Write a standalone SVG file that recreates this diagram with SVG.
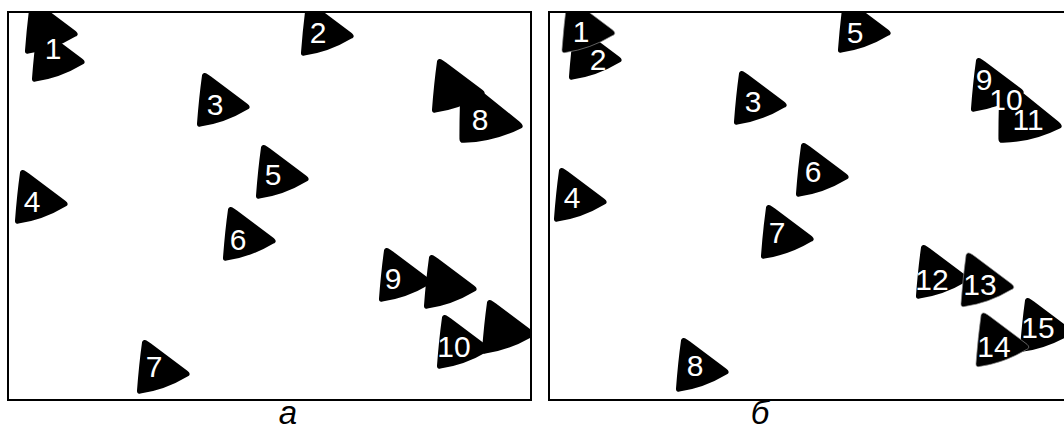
<svg xmlns="http://www.w3.org/2000/svg" xmlns:xlink="http://www.w3.org/1999/xlink" width="1064" height="432" viewBox="0 0 1064 432">
  <style>
    .frame { fill: none; stroke: #000; stroke-width: 2; }
    .blob { fill: #000; }
    .seam { fill: #000; stroke: #8a8a8a; stroke-width: 0.7; }
    .lbl { fill: #fff; font-family: "Liberation Sans", Arial, sans-serif; font-size: 30px; text-anchor: middle; }
    .cap { fill: #000; font-family: "Liberation Sans", Arial, sans-serif; font-size: 33px; font-style: italic; text-anchor: middle; }
  </style>
  <defs>
    <path id="tri" d="M2,0 C4,0.5 6,2 8,3.5 L44,30.5 C47.5,33 47.5,35.5 44.5,36.5 Q22,50 -2.5,53.5 C-5,54.2 -6.2,53 -6,50.5 Q-4,24 -1,2.5 C-0.6,0.5 0.5,-0.3 2,0 Z"/>
    <clipPath id="clipA"><rect x="9" y="13" width="521" height="386"/></clipPath>
    <clipPath id="clipB"><rect x="550" y="13" width="522" height="386"/></clipPath>
  </defs>
  <rect width="1064" height="432" fill="#fff"/>

  <!-- Panel a -->
  <g id="panel-a" clip-path="url(#clipA)">
    <g id="a-node-1">
      <use href="#tri" class="blob" transform="translate(31,0)"/>
      <use href="#tri" class="blob" transform="translate(38,28)"/>
      <text class="lbl" x="53" y="59">1</text>
    </g>
    <g id="a-node-2">
      <use href="#tri" class="blob" transform="translate(307,2)"/>
      <text class="lbl" x="318" y="43">2</text>
    </g>
    <g id="a-node-3">
      <use href="#tri" class="blob" transform="translate(203,73)"/>
      <text class="lbl" x="215" y="115">3</text>
    </g>
    <g id="a-node-4">
      <use href="#tri" class="blob" transform="translate(21,170)"/>
      <text class="lbl" x="32" y="212">4</text>
    </g>
    <g id="a-node-5">
      <use href="#tri" class="blob" transform="translate(262,145)"/>
      <text class="lbl" x="273" y="185">5</text>
    </g>
    <g id="a-node-6">
      <use href="#tri" class="blob" transform="translate(229,207)"/>
      <text class="lbl" x="238" y="250">6</text>
    </g>
    <g id="a-node-7">
      <use href="#tri" class="blob" transform="translate(143,340)"/>
      <text class="lbl" x="154" y="377">7</text>
    </g>
    <g id="a-node-8">
      <use href="#tri" class="blob" transform="translate(438,59)"/>
      <use href="#tri" class="blob" transform="matrix(1.231,0.14,0.0955,1.217,462,78)"/>
      <text class="lbl" x="480" y="130">8</text>
    </g>
    <g id="a-node-9">
      <use href="#tri" class="blob" transform="translate(385,248)"/>
      <use href="#tri" class="blob" transform="translate(430,255)"/>
      <text class="lbl" x="393" y="289">9</text>
    </g>
    <g id="a-node-10">
      <use href="#tri" class="blob" transform="translate(488,300)"/>
      <use href="#tri" class="blob" transform="translate(443,315)"/>
      <text class="lbl" x="454" y="357">10</text>
    </g>
  </g>

  <!-- Panel b -->
  <g id="panel-b" clip-path="url(#clipB)">
    <g id="b-node-1-2">
      <use href="#tri" class="blob" transform="translate(575,26)"/>
      <use href="#tri" class="seam" transform="translate(568,-1)"/>
      <text class="lbl" x="581" y="42">1</text>
      <text class="lbl" x="598" y="70">2</text>
    </g>
    <g id="b-node-3">
      <use href="#tri" class="blob" transform="translate(740,71)"/>
      <text class="lbl" x="753" y="112">3</text>
    </g>
    <g id="b-node-4">
      <use href="#tri" class="blob" transform="translate(560,168)"/>
      <text class="lbl" x="572" y="208">4</text>
    </g>
    <g id="b-node-5">
      <use href="#tri" class="blob" transform="translate(844,-1)"/>
      <text class="lbl" x="855" y="43">5</text>
    </g>
    <g id="b-node-6">
      <use href="#tri" class="blob" transform="translate(802,143)"/>
      <text class="lbl" x="813" y="182">6</text>
    </g>
    <g id="b-node-7">
      <use href="#tri" class="blob" transform="translate(767,205)"/>
      <text class="lbl" x="777" y="243">7</text>
    </g>
    <g id="b-node-8">
      <use href="#tri" class="blob" transform="translate(682,338)"/>
      <text class="lbl" x="695" y="376">8</text>
    </g>
    <g id="b-node-9-10-11">
      <use href="#tri" class="blob" transform="translate(977,58)"/>
      <use href="#tri" class="blob" transform="matrix(1.231,0.14,0.0955,1.217,1001,78)"/>
      <text class="lbl" x="984" y="90">9</text>
      <text class="lbl" x="1006" y="110">10</text>
      <text class="lbl" x="1028" y="130">11</text>
    </g>
    <g id="b-node-12-13">
      <use href="#tri" class="blob" transform="translate(922,245)"/>
      <use href="#tri" class="seam" transform="translate(967,253)"/>
      <text class="lbl" x="932" y="290">12</text>
      <text class="lbl" x="980" y="295">13</text>
    </g>
    <g id="b-node-14-15">
      <use href="#tri" class="blob" transform="translate(1026,298)"/>
      <use href="#tri" class="seam" transform="translate(982,313)"/>
      <text class="lbl" x="994" y="357">14</text>
      <text class="lbl" x="1038" y="338">15</text>
    </g>
  </g>

  <g id="frames">
    <rect class="frame" x="8" y="12" width="523" height="388"/>
    <rect class="frame" x="549" y="12" width="523" height="388"/>
  </g>

  <g id="connectors"></g>

  <text class="cap" x="288" y="424">а</text>
  <text class="cap" x="760" y="424">б</text>
</svg>
